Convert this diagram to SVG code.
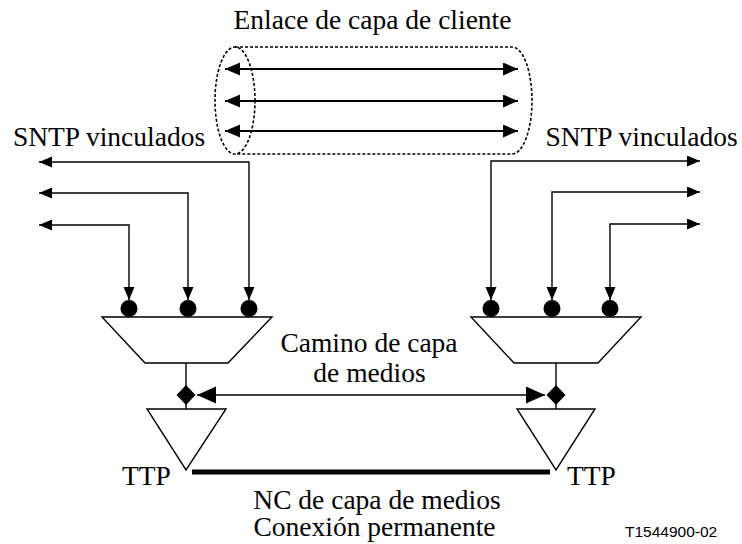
<svg xmlns="http://www.w3.org/2000/svg" width="742" height="544" viewBox="0 0 742 544">
<style>
.t{font-family:"Liberation Serif","Times New Roman",serif;font-size:27.5px;fill:#000}
.c{text-anchor:middle}
.ln{fill:none;stroke:#000;stroke-width:1.4}
.sh{fill:#fff;stroke:#000;stroke-width:1.4}
</style>
<defs>
<marker id="a1" markerUnits="userSpaceOnUse" markerWidth="14" markerHeight="12" refX="13" refY="5.5" orient="auto-start-reverse"><path d="M0,0 L13,5.5 L0,11 z" fill="#000"/></marker>
<marker id="a2" markerUnits="userSpaceOnUse" markerWidth="16" markerHeight="14" refX="15" refY="6.5" orient="auto-start-reverse"><path d="M0,0 L15,6.5 L0,13 z" fill="#000"/></marker>
<marker id="a3" markerUnits="userSpaceOnUse" markerWidth="20" markerHeight="18" refX="19" refY="8.5" orient="auto-start-reverse"><path d="M0,0 L19,8.5 L0,17 z" fill="#000"/></marker>
</defs>

<g id="client-link">
<path d="M235,47 L512,47 A20,53.5 0 0 1 512,154 L235,154" fill="none" stroke="#000" stroke-width="1.6" stroke-dasharray="3,2"/>
<ellipse cx="235" cy="100.5" rx="20" ry="53.5" fill="none" stroke="#000" stroke-width="1.6" stroke-dasharray="3,2"/>
</g>

<g id="connectors">
<line x1="225" y1="69" x2="518" y2="69" stroke="#000" stroke-width="2" marker-start="url(#a2)" marker-end="url(#a2)"/>
<line x1="225" y1="101" x2="518" y2="101" stroke="#000" stroke-width="2" marker-start="url(#a2)" marker-end="url(#a2)"/>
<line x1="225" y1="131" x2="518" y2="131" stroke="#000" stroke-width="2" marker-start="url(#a2)" marker-end="url(#a2)"/>

<polyline class="ln" points="249,300 249,162 39,162" marker-start="url(#a1)" marker-end="url(#a1)"/>
<polyline class="ln" points="188,300 188,193 39,193" marker-start="url(#a1)" marker-end="url(#a1)"/>
<polyline class="ln" points="129,300 129,225 39,225" marker-start="url(#a1)" marker-end="url(#a1)"/>

<polyline class="ln" points="491,300 491,161 700,161" marker-start="url(#a1)" marker-end="url(#a1)"/>
<polyline class="ln" points="552,300 552,192 700,192" marker-start="url(#a1)" marker-end="url(#a1)"/>
<polyline class="ln" points="610,300 610,224 700,224" marker-start="url(#a1)" marker-end="url(#a1)"/>

<line class="ln" x1="186" y1="363" x2="186" y2="409"/>
<line class="ln" x1="556" y1="363" x2="556" y2="409"/>
<line x1="197" y1="395" x2="545" y2="395" stroke="#000" stroke-width="1.4" marker-start="url(#a3)" marker-end="url(#a3)"/>
<line x1="192" y1="472" x2="550" y2="472" stroke="#000" stroke-width="5"/>
</g>

<g id="adapt-left">
<circle cx="129" cy="308.5" r="8.5" fill="#000"/>
<circle cx="188" cy="308.5" r="8.5" fill="#000"/>
<circle cx="249" cy="308.5" r="8.5" fill="#000"/>
<polygon class="sh" points="102,317 272,317 228,363 145,363"/>
</g>

<g id="adapt-right">
<circle cx="491" cy="308.5" r="8.5" fill="#000"/>
<circle cx="552" cy="308.5" r="8.5" fill="#000"/>
<circle cx="610" cy="308.5" r="8.5" fill="#000"/>
<polygon class="sh" points="471,317 641,317 598,363 514,363"/>
</g>

<g id="ttp-left">
<polygon points="186,385 195.5,395 186,405 176.5,395" fill="#000"/>
<polygon class="sh" points="147,409 226,409 186,470"/>
</g>

<g id="ttp-right">
<polygon points="556,385 565.5,395 556,405 546.5,395" fill="#000"/>
<polygon class="sh" points="517,409 595,409 556,470"/>
</g>

<g id="labels">
<text class="t c" x="372.5" y="29">Enlace de capa de cliente</text>
<text class="t c" x="109" y="146">SNTP vinculados</text>
<text class="t c" x="641.5" y="146">SNTP vinculados</text>
<text class="t c" x="369" y="352">Camino de capa</text>
<text class="t c" x="369.5" y="382">de medios</text>
<text class="t" x="122" y="485">TTP</text>
<text class="t" x="567" y="485">TTP</text>
<text class="t c" x="377" y="509">NC de capa de medios</text>
<text class="t c" x="374.5" y="536">Conexión permanente</text>
<text x="625" y="537" style="font-family:'Liberation Sans',Arial,sans-serif;font-size:15.5px;fill:#000">T1544900-02</text>
</g>
</svg>
